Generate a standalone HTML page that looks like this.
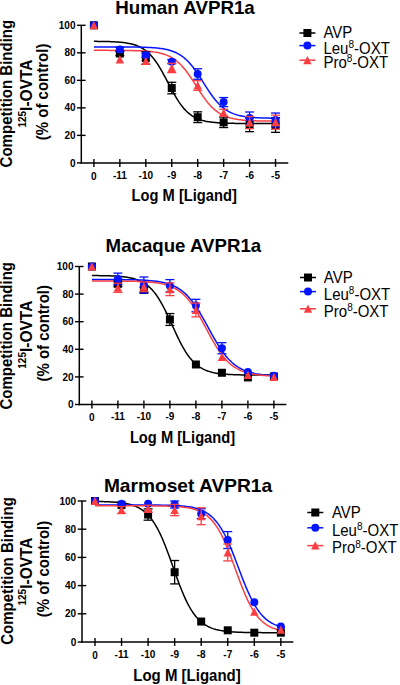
<!DOCTYPE html>
<html><head><meta charset="utf-8"><style>
html,body{margin:0;padding:0;background:#fff;width:400px;height:685px;overflow:hidden}
svg{display:block}
text{font-family:"Liberation Sans",sans-serif}
</style></head><body>
<svg width="400" height="685" viewBox="0 0 400 685" font-family="Liberation Sans, sans-serif">
<rect width="400" height="685" fill="#fff"/>
<text transform="translate(115.20,14.00) scale(1,1.03)" font-size="18.3" font-weight="bold" text-anchor="start" textLength="139.6" lengthAdjust="spacingAndGlyphs">Human AVPR1a</text>
<line x1="81.30" y1="25.30" x2="81.30" y2="163.60" stroke="#000" stroke-width="1.5"/>
<line x1="80.60" y1="162.90" x2="288.30" y2="162.90" stroke="#000" stroke-width="1.5"/>
<line x1="77.00" y1="162.90" x2="81.30" y2="162.90" stroke="#000" stroke-width="1.4"/>
<text x="75.50" y="166.50" font-size="10" font-weight="bold" text-anchor="end" >0</text>
<line x1="77.00" y1="135.38" x2="85.60" y2="135.38" stroke="#000" stroke-width="1.4"/>
<text x="75.50" y="138.98" font-size="10" font-weight="bold" text-anchor="end" >20</text>
<line x1="77.00" y1="107.86" x2="85.60" y2="107.86" stroke="#000" stroke-width="1.4"/>
<text x="75.50" y="111.46" font-size="10" font-weight="bold" text-anchor="end" >40</text>
<line x1="77.00" y1="80.34" x2="85.60" y2="80.34" stroke="#000" stroke-width="1.4"/>
<text x="75.50" y="83.94" font-size="10" font-weight="bold" text-anchor="end" >60</text>
<line x1="77.00" y1="52.82" x2="85.60" y2="52.82" stroke="#000" stroke-width="1.4"/>
<text x="75.50" y="56.42" font-size="10" font-weight="bold" text-anchor="end" >80</text>
<line x1="77.00" y1="25.30" x2="85.60" y2="25.30" stroke="#000" stroke-width="1.4"/>
<text x="75.50" y="28.90" font-size="10" font-weight="bold" text-anchor="end" >100</text>
<line x1="93.90" y1="158.90" x2="93.90" y2="166.90" stroke="#000" stroke-width="1.4"/>
<text x="93.90" y="180.10" font-size="10" font-weight="bold" text-anchor="middle" >0</text>
<line x1="119.85" y1="158.90" x2="119.85" y2="166.90" stroke="#000" stroke-width="1.4"/>
<text x="119.85" y="179.30" font-size="10" font-weight="bold" text-anchor="middle" >-11</text>
<line x1="145.80" y1="158.90" x2="145.80" y2="166.90" stroke="#000" stroke-width="1.4"/>
<text x="145.80" y="179.30" font-size="10" font-weight="bold" text-anchor="middle" >-10</text>
<line x1="171.75" y1="158.90" x2="171.75" y2="166.90" stroke="#000" stroke-width="1.4"/>
<text x="171.75" y="179.30" font-size="10" font-weight="bold" text-anchor="middle" >-9</text>
<line x1="197.70" y1="158.90" x2="197.70" y2="166.90" stroke="#000" stroke-width="1.4"/>
<text x="197.70" y="179.30" font-size="10" font-weight="bold" text-anchor="middle" >-8</text>
<line x1="223.65" y1="158.90" x2="223.65" y2="166.90" stroke="#000" stroke-width="1.4"/>
<text x="223.65" y="179.30" font-size="10" font-weight="bold" text-anchor="middle" >-7</text>
<line x1="249.60" y1="158.90" x2="249.60" y2="166.90" stroke="#000" stroke-width="1.4"/>
<text x="249.60" y="179.30" font-size="10" font-weight="bold" text-anchor="middle" >-6</text>
<line x1="275.55" y1="158.90" x2="275.55" y2="166.90" stroke="#000" stroke-width="1.4"/>
<text x="275.55" y="179.30" font-size="10" font-weight="bold" text-anchor="middle" >-5</text>
<text transform="translate(131.60,200.60) scale(1,1.08)" font-size="14.7" font-weight="bold" text-anchor="start" >Log M [Ligand]</text>
<g transform="translate(0,93.60) rotate(-90)">
<text transform="translate(0.00,12.30) scale(1,1.07)" font-size="15.2" font-weight="bold" text-anchor="middle" textLength="147.6" lengthAdjust="spacingAndGlyphs">Competition Binding</text>
</g>
<g transform="translate(0,93.55) rotate(-90)">
<text transform="translate(0,31.80) scale(1,1.07)" font-size="15.5" font-weight="bold" text-anchor="middle"><tspan font-size="10" dy="-5.33">125</tspan><tspan dy="5.33">I-OVTA</tspan></text>
</g>
<g transform="translate(0,91.90) rotate(-90)">
<text transform="translate(0.00,48.30) scale(1,1.07)" font-size="15.5" font-weight="bold" text-anchor="middle" textLength="96.6" lengthAdjust="spacingAndGlyphs">(% of control)</text>
</g>
<polyline points="93.90,41.35 95.20,41.36 96.50,41.37 97.79,41.38 99.09,41.40 100.39,41.41 101.69,41.43 102.98,41.46 104.28,41.48 105.58,41.51 106.88,41.54 108.17,41.58 109.47,41.62 110.77,41.66 112.07,41.71 113.36,41.77 114.66,41.84 115.96,41.91 117.26,41.99 118.55,42.09 119.85,42.19 121.15,42.31 122.45,42.44 123.74,42.59 125.04,42.76 126.34,42.95 127.64,43.16 128.93,43.39 130.23,43.66 131.53,43.96 132.83,44.29 134.12,44.67 135.42,45.08 136.72,45.55 138.02,46.07 139.31,46.64 140.61,47.28 141.91,48.00 143.21,48.78 144.50,49.65 145.80,50.60 147.10,51.65 148.40,52.80 149.69,54.05 150.99,55.41 152.29,56.89 153.59,58.48 154.88,60.18 156.18,62.00 157.48,63.93 158.78,65.97 160.07,68.10 161.37,70.34 162.67,72.65 163.97,75.02 165.26,77.45 166.56,79.92 167.86,82.40 169.16,84.89 170.45,87.35 171.75,89.78 173.05,92.16 174.35,94.47 175.64,96.70 176.94,98.84 178.24,100.88 179.54,102.81 180.83,104.63 182.13,106.33 183.43,107.92 184.73,109.39 186.02,110.75 187.32,112.01 188.62,113.15 189.92,114.20 191.21,115.16 192.51,116.03 193.81,116.81 195.11,117.52 196.40,118.16 197.70,118.74 199.00,119.26 200.30,119.73 201.59,120.14 202.89,120.52 204.19,120.85 205.49,121.15 206.78,121.41 208.08,121.65 209.38,121.86 210.68,122.05 211.97,122.22 213.27,122.37 214.57,122.50 215.87,122.62 217.16,122.72 218.46,122.82 219.76,122.90 221.06,122.97 222.35,123.04 223.65,123.09 224.95,123.15 226.25,123.19 227.54,123.23 228.84,123.27 230.14,123.30 231.44,123.33 232.73,123.35 234.03,123.37 235.33,123.39 236.63,123.41 237.92,123.43 239.22,123.44 240.52,123.45 241.82,123.46 243.11,123.47 244.41,123.48 245.71,123.49 247.01,123.49 248.30,123.50 249.60,123.51 250.90,123.51 252.20,123.51 253.49,123.52 254.79,123.52 256.09,123.52 257.39,123.53 258.68,123.53 259.98,123.53 261.28,123.53 262.58,123.53 263.87,123.54 265.17,123.54 266.47,123.54 267.77,123.54 269.06,123.54 270.36,123.54 271.66,123.54 272.96,123.54 274.25,123.54 275.55,123.54 276.85,123.54 278.15,123.54 279.44,123.54" fill="none" stroke="#000" stroke-width="1.5"/>
<polyline points="93.90,46.91 95.20,46.91 96.50,46.91 97.79,46.91 99.09,46.91 100.39,46.91 101.69,46.91 102.98,46.91 104.28,46.91 105.58,46.92 106.88,46.92 108.17,46.92 109.47,46.92 110.77,46.92 112.07,46.92 113.36,46.93 114.66,46.93 115.96,46.93 117.26,46.94 118.55,46.94 119.85,46.95 121.15,46.95 122.45,46.96 123.74,46.96 125.04,46.97 126.34,46.98 127.64,46.99 128.93,47.00 130.23,47.01 131.53,47.02 132.83,47.04 134.12,47.06 135.42,47.07 136.72,47.09 138.02,47.12 139.31,47.14 140.61,47.17 141.91,47.21 143.21,47.24 144.50,47.28 145.80,47.33 147.10,47.38 148.40,47.44 149.69,47.51 150.99,47.58 152.29,47.66 153.59,47.75 154.88,47.85 156.18,47.97 157.48,48.10 158.78,48.24 160.07,48.40 161.37,48.58 162.67,48.77 163.97,49.00 165.26,49.24 166.56,49.52 167.86,49.82 169.16,50.17 170.45,50.54 171.75,50.96 173.05,51.43 174.35,51.94 175.64,52.50 176.94,53.13 178.24,53.81 179.54,54.57 180.83,55.39 182.13,56.29 183.43,57.27 184.73,58.33 186.02,59.48 187.32,60.72 188.62,62.05 189.92,63.47 191.21,64.98 192.51,66.58 193.81,68.26 195.11,70.02 196.40,71.86 197.70,73.75 199.00,75.71 200.30,77.71 201.59,79.74 202.89,81.79 204.19,83.84 205.49,85.89 206.78,87.92 208.08,89.91 209.38,91.85 210.68,93.74 211.97,95.56 213.27,97.31 214.57,98.97 215.87,100.55 217.16,102.04 218.46,103.45 219.76,104.76 221.06,105.98 222.35,107.11 223.65,108.15 224.95,109.12 226.25,110.00 227.54,110.81 228.84,111.55 230.14,112.22 231.44,112.83 232.73,113.39 234.03,113.89 235.33,114.35 236.63,114.76 237.92,115.13 239.22,115.46 240.52,115.76 241.82,116.03 243.11,116.27 244.41,116.49 245.71,116.68 247.01,116.86 248.30,117.01 249.60,117.15 250.90,117.28 252.20,117.39 253.49,117.49 254.79,117.58 256.09,117.66 257.39,117.73 258.68,117.79 259.98,117.85 261.28,117.90 262.58,117.94 263.87,117.99 265.17,118.02 266.47,118.05 267.77,118.08 269.06,118.11 270.36,118.13 271.66,118.15 272.96,118.17 274.25,118.18 275.55,118.20 276.85,118.21 278.15,118.22 279.44,118.23" fill="none" stroke="#0514ff" stroke-width="1.5"/>
<polyline points="93.90,50.35 95.20,50.35 96.50,50.35 97.79,50.35 99.09,50.36 100.39,50.36 101.69,50.36 102.98,50.36 104.28,50.36 105.58,50.37 106.88,50.37 108.17,50.37 109.47,50.38 110.77,50.38 112.07,50.38 113.36,50.39 114.66,50.39 115.96,50.40 117.26,50.41 118.55,50.42 119.85,50.42 121.15,50.43 122.45,50.45 123.74,50.46 125.04,50.47 126.34,50.49 127.64,50.51 128.93,50.52 130.23,50.55 131.53,50.57 132.83,50.60 134.12,50.63 135.42,50.67 136.72,50.70 138.02,50.75 139.31,50.80 140.61,50.85 141.91,50.91 143.21,50.98 144.50,51.06 145.80,51.15 147.10,51.24 148.40,51.35 149.69,51.47 150.99,51.61 152.29,51.76 153.59,51.93 154.88,52.12 156.18,52.33 157.48,52.56 158.78,52.83 160.07,53.12 161.37,53.44 162.67,53.80 163.97,54.20 165.26,54.64 166.56,55.13 167.86,55.67 169.16,56.27 170.45,56.92 171.75,57.64 173.05,58.43 174.35,59.29 175.64,60.23 176.94,61.25 178.24,62.36 179.54,63.55 180.83,64.83 182.13,66.21 183.43,67.67 184.73,69.22 186.02,70.86 187.32,72.57 188.62,74.37 189.92,76.23 191.21,78.15 192.51,80.11 193.81,82.12 195.11,84.14 196.40,86.18 197.70,88.22 199.00,90.24 200.30,92.23 201.59,94.18 202.89,96.08 204.19,97.91 205.49,99.67 206.78,101.36 208.08,102.96 209.38,104.48 210.68,105.90 211.97,107.24 213.27,108.49 214.57,109.64 215.87,110.72 217.16,111.70 218.46,112.61 219.76,113.44 221.06,114.20 222.35,114.90 223.65,115.53 224.95,116.10 226.25,116.62 227.54,117.09 228.84,117.52 230.14,117.90 231.44,118.24 232.73,118.55 234.03,118.83 235.33,119.08 236.63,119.31 237.92,119.51 239.22,119.69 240.52,119.85 241.82,120.00 243.11,120.13 244.41,120.24 245.71,120.35 247.01,120.44 248.30,120.52 249.60,120.60 250.90,120.66 252.20,120.72 253.49,120.77 254.79,120.82 256.09,120.86 257.39,120.90 258.68,120.93 259.98,120.96 261.28,120.99 262.58,121.01 263.87,121.03 265.17,121.05 266.47,121.07 267.77,121.08 269.06,121.10 270.36,121.11 271.66,121.12 272.96,121.13 274.25,121.14 275.55,121.15 276.85,121.15 278.15,121.16 279.44,121.16" fill="none" stroke="#fa3e42" stroke-width="1.5"/>
<rect x="89.90" y="21.30" width="8.00" height="8.00" fill="#000"/>
<line x1="119.85" y1="51.44" x2="119.85" y2="55.57" stroke="#000" stroke-width="1.3"/>
<line x1="115.35" y1="51.44" x2="124.35" y2="51.44" stroke="#000" stroke-width="1.3"/>
<line x1="115.35" y1="55.57" x2="124.35" y2="55.57" stroke="#000" stroke-width="1.3"/>
<rect x="115.85" y="49.51" width="8.00" height="8.00" fill="#000"/>
<line x1="145.80" y1="51.86" x2="145.80" y2="64.24" stroke="#000" stroke-width="1.3"/>
<line x1="141.30" y1="51.86" x2="150.30" y2="51.86" stroke="#000" stroke-width="1.3"/>
<line x1="141.30" y1="64.24" x2="150.30" y2="64.24" stroke="#000" stroke-width="1.3"/>
<rect x="141.80" y="54.05" width="8.00" height="8.00" fill="#000"/>
<line x1="171.75" y1="82.27" x2="171.75" y2="93.82" stroke="#000" stroke-width="1.3"/>
<line x1="167.25" y1="82.27" x2="176.25" y2="82.27" stroke="#000" stroke-width="1.3"/>
<line x1="167.25" y1="93.82" x2="176.25" y2="93.82" stroke="#000" stroke-width="1.3"/>
<rect x="167.75" y="84.05" width="8.00" height="8.00" fill="#000"/>
<line x1="197.70" y1="111.85" x2="197.70" y2="122.58" stroke="#000" stroke-width="1.3"/>
<line x1="193.20" y1="111.85" x2="202.20" y2="111.85" stroke="#000" stroke-width="1.3"/>
<line x1="193.20" y1="122.58" x2="202.20" y2="122.58" stroke="#000" stroke-width="1.3"/>
<rect x="193.70" y="113.22" width="8.00" height="8.00" fill="#000"/>
<line x1="223.65" y1="117.08" x2="223.65" y2="127.54" stroke="#000" stroke-width="1.3"/>
<line x1="219.15" y1="117.08" x2="228.15" y2="117.08" stroke="#000" stroke-width="1.3"/>
<line x1="219.15" y1="127.54" x2="228.15" y2="127.54" stroke="#000" stroke-width="1.3"/>
<rect x="219.65" y="118.31" width="8.00" height="8.00" fill="#000"/>
<line x1="249.60" y1="118.18" x2="249.60" y2="131.66" stroke="#000" stroke-width="1.3"/>
<line x1="245.10" y1="118.18" x2="254.10" y2="118.18" stroke="#000" stroke-width="1.3"/>
<line x1="245.10" y1="131.66" x2="254.10" y2="131.66" stroke="#000" stroke-width="1.3"/>
<rect x="245.60" y="120.92" width="8.00" height="8.00" fill="#000"/>
<line x1="275.55" y1="117.77" x2="275.55" y2="132.35" stroke="#000" stroke-width="1.3"/>
<line x1="271.05" y1="117.77" x2="280.05" y2="117.77" stroke="#000" stroke-width="1.3"/>
<line x1="271.05" y1="132.35" x2="280.05" y2="132.35" stroke="#000" stroke-width="1.3"/>
<rect x="271.55" y="121.06" width="8.00" height="8.00" fill="#000"/>
<circle cx="93.90" cy="25.30" r="4.00" fill="#0514ff"/>
<line x1="119.85" y1="47.32" x2="119.85" y2="51.44" stroke="#0514ff" stroke-width="1.3"/>
<line x1="115.35" y1="47.32" x2="124.35" y2="47.32" stroke="#0514ff" stroke-width="1.3"/>
<line x1="115.35" y1="51.44" x2="124.35" y2="51.44" stroke="#0514ff" stroke-width="1.3"/>
<circle cx="119.85" cy="49.38" r="4.00" fill="#0514ff"/>
<line x1="145.80" y1="53.10" x2="145.80" y2="57.22" stroke="#0514ff" stroke-width="1.3"/>
<line x1="141.30" y1="53.10" x2="150.30" y2="53.10" stroke="#0514ff" stroke-width="1.3"/>
<line x1="141.30" y1="57.22" x2="150.30" y2="57.22" stroke="#0514ff" stroke-width="1.3"/>
<circle cx="145.80" cy="55.16" r="4.00" fill="#0514ff"/>
<line x1="171.75" y1="59.56" x2="171.75" y2="63.69" stroke="#0514ff" stroke-width="1.3"/>
<line x1="167.25" y1="59.56" x2="176.25" y2="59.56" stroke="#0514ff" stroke-width="1.3"/>
<line x1="167.25" y1="63.69" x2="176.25" y2="63.69" stroke="#0514ff" stroke-width="1.3"/>
<circle cx="171.75" cy="61.63" r="4.00" fill="#0514ff"/>
<line x1="197.70" y1="68.78" x2="197.70" y2="79.24" stroke="#0514ff" stroke-width="1.3"/>
<line x1="193.20" y1="68.78" x2="202.20" y2="68.78" stroke="#0514ff" stroke-width="1.3"/>
<line x1="193.20" y1="79.24" x2="202.20" y2="79.24" stroke="#0514ff" stroke-width="1.3"/>
<circle cx="197.70" cy="74.01" r="4.00" fill="#0514ff"/>
<line x1="223.65" y1="97.54" x2="223.65" y2="106.62" stroke="#0514ff" stroke-width="1.3"/>
<line x1="219.15" y1="97.54" x2="228.15" y2="97.54" stroke="#0514ff" stroke-width="1.3"/>
<line x1="219.15" y1="106.62" x2="228.15" y2="106.62" stroke="#0514ff" stroke-width="1.3"/>
<circle cx="223.65" cy="102.08" r="4.00" fill="#0514ff"/>
<line x1="249.60" y1="111.99" x2="249.60" y2="124.10" stroke="#0514ff" stroke-width="1.3"/>
<line x1="245.10" y1="111.99" x2="254.10" y2="111.99" stroke="#0514ff" stroke-width="1.3"/>
<line x1="245.10" y1="124.10" x2="254.10" y2="124.10" stroke="#0514ff" stroke-width="1.3"/>
<circle cx="249.60" cy="118.04" r="4.00" fill="#0514ff"/>
<line x1="275.55" y1="113.02" x2="275.55" y2="126.92" stroke="#0514ff" stroke-width="1.3"/>
<line x1="271.05" y1="113.02" x2="280.05" y2="113.02" stroke="#0514ff" stroke-width="1.3"/>
<line x1="271.05" y1="126.92" x2="280.05" y2="126.92" stroke="#0514ff" stroke-width="1.3"/>
<circle cx="275.55" cy="119.97" r="4.00" fill="#0514ff"/>
<polygon points="93.90,21.00 98.10,29.30 89.70,29.30" fill="#fa3e42"/>
<polygon points="119.85,55.12 124.05,63.42 115.65,63.42" fill="#fa3e42"/>
<polygon points="145.80,56.78 150.00,65.08 141.60,65.08" fill="#fa3e42"/>
<line x1="171.75" y1="63.28" x2="171.75" y2="72.63" stroke="#fa3e42" stroke-width="1.3"/>
<line x1="167.25" y1="63.28" x2="176.25" y2="63.28" stroke="#fa3e42" stroke-width="1.3"/>
<line x1="167.25" y1="72.63" x2="176.25" y2="72.63" stroke="#fa3e42" stroke-width="1.3"/>
<polygon points="171.75,63.66 175.95,71.96 167.55,71.96" fill="#fa3e42"/>
<line x1="197.70" y1="80.62" x2="197.70" y2="90.25" stroke="#fa3e42" stroke-width="1.3"/>
<line x1="193.20" y1="80.62" x2="202.20" y2="80.62" stroke="#fa3e42" stroke-width="1.3"/>
<line x1="193.20" y1="90.25" x2="202.20" y2="90.25" stroke="#fa3e42" stroke-width="1.3"/>
<polygon points="197.70,81.13 201.90,89.43 193.50,89.43" fill="#fa3e42"/>
<line x1="223.65" y1="109.24" x2="223.65" y2="116.12" stroke="#fa3e42" stroke-width="1.3"/>
<line x1="219.15" y1="109.24" x2="228.15" y2="109.24" stroke="#fa3e42" stroke-width="1.3"/>
<line x1="219.15" y1="116.12" x2="228.15" y2="116.12" stroke="#fa3e42" stroke-width="1.3"/>
<polygon points="223.65,108.38 227.85,116.68 219.45,116.68" fill="#fa3e42"/>
<line x1="249.60" y1="116.53" x2="249.60" y2="128.64" stroke="#fa3e42" stroke-width="1.3"/>
<line x1="245.10" y1="116.53" x2="254.10" y2="116.53" stroke="#fa3e42" stroke-width="1.3"/>
<line x1="245.10" y1="128.64" x2="254.10" y2="128.64" stroke="#fa3e42" stroke-width="1.3"/>
<polygon points="249.60,118.28 253.80,126.58 245.40,126.58" fill="#fa3e42"/>
<line x1="275.55" y1="115.15" x2="275.55" y2="129.19" stroke="#fa3e42" stroke-width="1.3"/>
<line x1="271.05" y1="115.15" x2="280.05" y2="115.15" stroke="#fa3e42" stroke-width="1.3"/>
<line x1="271.05" y1="129.19" x2="280.05" y2="129.19" stroke="#fa3e42" stroke-width="1.3"/>
<polygon points="275.55,117.87 279.75,126.17 271.35,126.17" fill="#fa3e42"/>
<line x1="299.40" y1="33.00" x2="315.40" y2="33.00" stroke="#000" stroke-width="1.5"/>
<rect x="303.40" y="29.00" width="8.00" height="8.00" fill="#000"/>
<text transform="translate(323.40,37.90) scale(1,1.08)" font-size="15" font-weight="normal">AVP</text>
<line x1="299.40" y1="45.60" x2="315.40" y2="45.60" stroke="#0514ff" stroke-width="1.5"/>
<circle cx="307.40" cy="45.60" r="4.00" fill="#0514ff"/>
<text transform="translate(323.40,53.50) scale(1,1.08)" font-size="15" font-weight="normal">Leu<tspan font-size="10" dy="-5.4">8</tspan><tspan dy="5.4">-OXT</tspan></text>
<line x1="299.40" y1="60.20" x2="315.40" y2="60.20" stroke="#fa3e42" stroke-width="1.5"/>
<polygon points="307.40,55.90 311.60,64.20 303.20,64.20" fill="#fa3e42"/>
<text transform="translate(323.40,67.90) scale(1,1.08)" font-size="15" font-weight="normal">Pro<tspan font-size="10" dy="-5.4">8</tspan><tspan dy="5.4">-OXT</tspan></text>
<text transform="translate(105.60,252.10) scale(1,1.03)" font-size="18.3" font-weight="bold" text-anchor="start" textLength="155.6" lengthAdjust="spacingAndGlyphs">Macaque AVPR1a</text>
<line x1="79.30" y1="266.50" x2="79.30" y2="405.20" stroke="#000" stroke-width="1.5"/>
<line x1="78.60" y1="404.50" x2="286.40" y2="404.50" stroke="#000" stroke-width="1.5"/>
<line x1="75.00" y1="404.50" x2="79.30" y2="404.50" stroke="#000" stroke-width="1.4"/>
<text x="73.50" y="408.10" font-size="10" font-weight="bold" text-anchor="end" >0</text>
<line x1="75.00" y1="376.90" x2="83.60" y2="376.90" stroke="#000" stroke-width="1.4"/>
<text x="73.50" y="380.50" font-size="10" font-weight="bold" text-anchor="end" >20</text>
<line x1="75.00" y1="349.30" x2="83.60" y2="349.30" stroke="#000" stroke-width="1.4"/>
<text x="73.50" y="352.90" font-size="10" font-weight="bold" text-anchor="end" >40</text>
<line x1="75.00" y1="321.70" x2="83.60" y2="321.70" stroke="#000" stroke-width="1.4"/>
<text x="73.50" y="325.30" font-size="10" font-weight="bold" text-anchor="end" >60</text>
<line x1="75.00" y1="294.10" x2="83.60" y2="294.10" stroke="#000" stroke-width="1.4"/>
<text x="73.50" y="297.70" font-size="10" font-weight="bold" text-anchor="end" >80</text>
<line x1="75.00" y1="266.50" x2="83.60" y2="266.50" stroke="#000" stroke-width="1.4"/>
<text x="73.50" y="270.10" font-size="10" font-weight="bold" text-anchor="end" >100</text>
<line x1="91.90" y1="400.50" x2="91.90" y2="408.50" stroke="#000" stroke-width="1.4"/>
<text x="91.90" y="420.80" font-size="10" font-weight="bold" text-anchor="middle" >0</text>
<line x1="117.90" y1="400.50" x2="117.90" y2="408.50" stroke="#000" stroke-width="1.4"/>
<text x="117.90" y="420.00" font-size="10" font-weight="bold" text-anchor="middle" >-11</text>
<line x1="143.90" y1="400.50" x2="143.90" y2="408.50" stroke="#000" stroke-width="1.4"/>
<text x="143.90" y="420.00" font-size="10" font-weight="bold" text-anchor="middle" >-10</text>
<line x1="169.90" y1="400.50" x2="169.90" y2="408.50" stroke="#000" stroke-width="1.4"/>
<text x="169.90" y="420.00" font-size="10" font-weight="bold" text-anchor="middle" >-9</text>
<line x1="195.90" y1="400.50" x2="195.90" y2="408.50" stroke="#000" stroke-width="1.4"/>
<text x="195.90" y="420.00" font-size="10" font-weight="bold" text-anchor="middle" >-8</text>
<line x1="221.90" y1="400.50" x2="221.90" y2="408.50" stroke="#000" stroke-width="1.4"/>
<text x="221.90" y="420.00" font-size="10" font-weight="bold" text-anchor="middle" >-7</text>
<line x1="247.90" y1="400.50" x2="247.90" y2="408.50" stroke="#000" stroke-width="1.4"/>
<text x="247.90" y="420.00" font-size="10" font-weight="bold" text-anchor="middle" >-6</text>
<line x1="273.90" y1="400.50" x2="273.90" y2="408.50" stroke="#000" stroke-width="1.4"/>
<text x="273.90" y="420.00" font-size="10" font-weight="bold" text-anchor="middle" >-5</text>
<text transform="translate(129.90,443.00) scale(1,1.08)" font-size="14.7" font-weight="bold" text-anchor="start" >Log M [Ligand]</text>
<g transform="translate(0,335.80) rotate(-90)">
<text transform="translate(0.00,12.40) scale(1,1.07)" font-size="15.2" font-weight="bold" text-anchor="middle" textLength="147.6" lengthAdjust="spacingAndGlyphs">Competition Binding</text>
</g>
<g transform="translate(0,334.70) rotate(-90)">
<text transform="translate(0,31.80) scale(1,1.07)" font-size="15.5" font-weight="bold" text-anchor="middle"><tspan font-size="10" dy="-5.33">125</tspan><tspan dy="5.33">I-OVTA</tspan></text>
</g>
<g transform="translate(0,333.30) rotate(-90)">
<text transform="translate(0.00,48.60) scale(1,1.07)" font-size="15.5" font-weight="bold" text-anchor="middle" textLength="96.6" lengthAdjust="spacingAndGlyphs">(% of control)</text>
</g>
<polyline points="91.90,275.55 93.20,275.56 94.50,275.57 95.80,275.58 97.10,275.60 98.40,275.61 99.70,275.63 101.00,275.65 102.30,275.67 103.60,275.70 104.90,275.73 106.20,275.76 107.50,275.79 108.80,275.83 110.10,275.87 111.40,275.92 112.70,275.98 114.00,276.04 115.30,276.11 116.60,276.19 117.90,276.27 119.20,276.37 120.50,276.48 121.80,276.60 123.10,276.74 124.40,276.89 125.70,277.06 127.00,277.25 128.30,277.46 129.60,277.70 130.90,277.97 132.20,278.26 133.50,278.59 134.80,278.96 136.10,279.37 137.40,279.83 138.70,280.33 140.00,280.89 141.30,281.51 142.60,282.20 143.90,282.96 145.20,283.80 146.50,284.72 147.80,285.73 149.10,286.84 150.40,288.05 151.70,289.37 153.00,290.81 154.30,292.36 155.60,294.04 156.90,295.84 158.20,297.77 159.50,299.83 160.80,302.01 162.10,304.31 163.40,306.73 164.70,309.25 166.00,311.86 167.30,314.56 168.60,317.33 169.90,320.14 171.20,323.00 172.50,325.86 173.80,328.72 175.10,331.56 176.40,334.36 177.70,337.10 179.00,339.77 180.30,342.35 181.60,344.83 182.90,347.20 184.20,349.45 185.50,351.58 186.80,353.59 188.10,355.47 189.40,357.22 190.70,358.85 192.00,360.35 193.30,361.74 194.60,363.02 195.90,364.19 197.20,365.26 198.50,366.24 199.80,367.12 201.10,367.93 202.40,368.66 203.70,369.32 205.00,369.92 206.30,370.45 207.60,370.94 208.90,371.37 210.20,371.77 211.50,372.12 212.80,372.44 214.10,372.72 215.40,372.97 216.70,373.20 218.00,373.40 219.30,373.59 220.60,373.75 221.90,373.90 223.20,374.03 224.50,374.14 225.80,374.25 227.10,374.34 228.40,374.42 229.70,374.50 231.00,374.56 232.30,374.62 233.60,374.67 234.90,374.72 236.20,374.76 237.50,374.80 238.80,374.83 240.10,374.86 241.40,374.89 242.70,374.91 244.00,374.93 245.30,374.95 246.60,374.97 247.90,374.98 249.20,375.00 250.50,375.01 251.80,375.02 253.10,375.03 254.40,375.04 255.70,375.04 257.00,375.05 258.30,375.06 259.60,375.06 260.90,375.07 262.20,375.07 263.50,375.08 264.80,375.08 266.10,375.08 267.40,375.08 268.70,375.09 270.00,375.09 271.30,375.09 272.60,375.09 273.90,375.09 275.20,375.10 276.50,375.10 277.80,375.10" fill="none" stroke="#000" stroke-width="1.5"/>
<polyline points="91.90,279.49 93.20,279.49 94.50,279.49 95.80,279.49 97.10,279.49 98.40,279.49 99.70,279.50 101.00,279.50 102.30,279.50 103.60,279.51 104.90,279.51 106.20,279.51 107.50,279.52 108.80,279.52 110.10,279.53 111.40,279.53 112.70,279.54 114.00,279.55 115.30,279.55 116.60,279.56 117.90,279.57 119.20,279.58 120.50,279.59 121.80,279.60 123.10,279.62 124.40,279.63 125.70,279.65 127.00,279.67 128.30,279.69 129.60,279.71 130.90,279.74 132.20,279.76 133.50,279.79 134.80,279.83 136.10,279.86 137.40,279.90 138.70,279.95 140.00,280.00 141.30,280.05 142.60,280.11 143.90,280.18 145.20,280.25 146.50,280.33 147.80,280.42 149.10,280.52 150.40,280.63 151.70,280.75 153.00,280.88 154.30,281.02 155.60,281.18 156.90,281.35 158.20,281.54 159.50,281.75 160.80,281.99 162.10,282.24 163.40,282.52 164.70,282.83 166.00,283.16 167.30,283.53 168.60,283.93 169.90,284.37 171.20,284.85 172.50,285.38 173.80,285.95 175.10,286.58 176.40,287.26 177.70,288.00 179.00,288.80 180.30,289.67 181.60,290.61 182.90,291.62 184.20,292.71 185.50,293.88 186.80,295.14 188.10,296.49 189.40,297.92 190.70,299.44 192.00,301.06 193.30,302.76 194.60,304.56 195.90,306.44 197.20,308.41 198.50,310.46 199.80,312.58 201.10,314.76 202.40,317.01 203.70,319.31 205.00,321.65 206.30,324.02 207.60,326.40 208.90,328.80 210.20,331.19 211.50,333.56 212.80,335.91 214.10,338.21 215.40,340.47 216.70,342.67 218.00,344.81 219.30,346.87 220.60,348.85 221.90,350.75 223.20,352.57 224.50,354.29 225.80,355.92 227.10,357.47 228.40,358.92 229.70,360.28 231.00,361.55 232.30,362.74 233.60,363.85 234.90,364.88 236.20,365.83 237.50,366.71 238.80,367.53 240.10,368.28 241.40,368.97 242.70,369.61 244.00,370.19 245.30,370.73 246.60,371.22 247.90,371.67 249.20,372.08 250.50,372.45 251.80,372.79 253.10,373.10 254.40,373.39 255.70,373.65 257.00,373.88 258.30,374.10 259.60,374.29 260.90,374.47 262.20,374.63 263.50,374.78 264.80,374.91 266.10,375.03 267.40,375.14 268.70,375.24 270.00,375.33 271.30,375.41 272.60,375.49 273.90,375.56 275.20,375.62 276.50,375.67 277.80,375.72" fill="none" stroke="#0514ff" stroke-width="1.5"/>
<polyline points="91.90,281.00 93.20,281.00 94.50,281.00 95.80,281.01 97.10,281.01 98.40,281.01 99.70,281.01 101.00,281.01 102.30,281.02 103.60,281.02 104.90,281.02 106.20,281.03 107.50,281.03 108.80,281.03 110.10,281.04 111.40,281.04 112.70,281.05 114.00,281.06 115.30,281.06 116.60,281.07 117.90,281.08 119.20,281.09 120.50,281.10 121.80,281.11 123.10,281.13 124.40,281.14 125.70,281.16 127.00,281.17 128.30,281.19 129.60,281.22 130.90,281.24 132.20,281.27 133.50,281.30 134.80,281.33 136.10,281.37 137.40,281.41 138.70,281.45 140.00,281.50 141.30,281.56 142.60,281.62 143.90,281.68 145.20,281.76 146.50,281.84 147.80,281.93 149.10,282.03 150.40,282.14 151.70,282.26 153.00,282.40 154.30,282.55 155.60,282.71 156.90,282.90 158.20,283.10 159.50,283.32 160.80,283.56 162.10,283.83 163.40,284.13 164.70,284.46 166.00,284.82 167.30,285.21 168.60,285.64 169.90,286.12 171.20,286.64 172.50,287.21 173.80,287.83 175.10,288.51 176.40,289.25 177.70,290.06 179.00,290.94 180.30,291.89 181.60,292.92 182.90,294.03 184.20,295.23 185.50,296.51 186.80,297.89 188.10,299.36 189.40,300.93 190.70,302.60 192.00,304.36 193.30,306.21 194.60,308.16 195.90,310.19 197.20,312.31 198.50,314.51 199.80,316.77 201.10,319.09 202.40,321.46 203.70,323.86 205.00,326.29 206.30,328.74 207.60,331.18 208.90,333.61 210.20,336.02 211.50,338.39 212.80,340.71 214.10,342.97 215.40,345.16 216.70,347.28 218.00,349.32 219.30,351.26 220.60,353.12 221.90,354.88 223.20,356.54 224.50,358.11 225.80,359.59 227.10,360.96 228.40,362.25 229.70,363.45 231.00,364.56 232.30,365.59 233.60,366.54 234.90,367.42 236.20,368.22 237.50,368.96 238.80,369.64 240.10,370.27 241.40,370.84 242.70,371.36 244.00,371.83 245.30,372.27 246.60,372.66 247.90,373.02 249.20,373.35 250.50,373.64 251.80,373.91 253.10,374.16 254.40,374.38 255.70,374.58 257.00,374.76 258.30,374.93 259.60,375.08 260.90,375.21 262.20,375.33 263.50,375.45 264.80,375.55 266.10,375.64 267.40,375.72 268.70,375.79 270.00,375.86 271.30,375.92 272.60,375.98 273.90,376.02 275.20,376.07 276.50,376.11 277.80,376.15" fill="none" stroke="#fa3e42" stroke-width="1.5"/>
<rect x="87.90" y="262.50" width="8.00" height="8.00" fill="#000"/>
<line x1="117.90" y1="280.99" x2="117.90" y2="286.51" stroke="#000" stroke-width="1.3"/>
<line x1="113.40" y1="280.99" x2="122.40" y2="280.99" stroke="#000" stroke-width="1.3"/>
<line x1="113.40" y1="286.51" x2="122.40" y2="286.51" stroke="#000" stroke-width="1.3"/>
<rect x="113.90" y="279.75" width="8.00" height="8.00" fill="#000"/>
<line x1="143.90" y1="287.20" x2="143.90" y2="292.72" stroke="#000" stroke-width="1.3"/>
<line x1="139.40" y1="287.20" x2="148.40" y2="287.20" stroke="#000" stroke-width="1.3"/>
<line x1="139.40" y1="292.72" x2="148.40" y2="292.72" stroke="#000" stroke-width="1.3"/>
<rect x="139.90" y="285.96" width="8.00" height="8.00" fill="#000"/>
<line x1="169.90" y1="313.56" x2="169.90" y2="325.43" stroke="#000" stroke-width="1.3"/>
<line x1="165.40" y1="313.56" x2="174.40" y2="313.56" stroke="#000" stroke-width="1.3"/>
<line x1="165.40" y1="325.43" x2="174.40" y2="325.43" stroke="#000" stroke-width="1.3"/>
<rect x="165.90" y="315.49" width="8.00" height="8.00" fill="#000"/>
<rect x="191.90" y="360.48" width="8.00" height="8.00" fill="#000"/>
<rect x="217.90" y="368.76" width="8.00" height="8.00" fill="#000"/>
<rect x="243.90" y="373.45" width="8.00" height="8.00" fill="#000"/>
<rect x="269.90" y="372.49" width="8.00" height="8.00" fill="#000"/>
<circle cx="91.90" cy="266.50" r="4.00" fill="#0514ff"/>
<line x1="117.90" y1="273.12" x2="117.90" y2="284.72" stroke="#0514ff" stroke-width="1.3"/>
<line x1="113.40" y1="273.12" x2="122.40" y2="273.12" stroke="#0514ff" stroke-width="1.3"/>
<line x1="113.40" y1="284.72" x2="122.40" y2="284.72" stroke="#0514ff" stroke-width="1.3"/>
<circle cx="117.90" cy="278.92" r="4.00" fill="#0514ff"/>
<line x1="143.90" y1="276.99" x2="143.90" y2="293.00" stroke="#0514ff" stroke-width="1.3"/>
<line x1="139.40" y1="276.99" x2="148.40" y2="276.99" stroke="#0514ff" stroke-width="1.3"/>
<line x1="139.40" y1="293.00" x2="148.40" y2="293.00" stroke="#0514ff" stroke-width="1.3"/>
<circle cx="143.90" cy="284.99" r="4.00" fill="#0514ff"/>
<line x1="169.90" y1="279.61" x2="169.90" y2="292.03" stroke="#0514ff" stroke-width="1.3"/>
<line x1="165.40" y1="279.61" x2="174.40" y2="279.61" stroke="#0514ff" stroke-width="1.3"/>
<line x1="165.40" y1="292.03" x2="174.40" y2="292.03" stroke="#0514ff" stroke-width="1.3"/>
<circle cx="169.90" cy="285.82" r="4.00" fill="#0514ff"/>
<line x1="195.90" y1="299.34" x2="195.90" y2="311.76" stroke="#0514ff" stroke-width="1.3"/>
<line x1="191.40" y1="299.34" x2="200.40" y2="299.34" stroke="#0514ff" stroke-width="1.3"/>
<line x1="191.40" y1="311.76" x2="200.40" y2="311.76" stroke="#0514ff" stroke-width="1.3"/>
<circle cx="195.90" cy="305.55" r="4.00" fill="#0514ff"/>
<line x1="221.90" y1="342.68" x2="221.90" y2="353.72" stroke="#0514ff" stroke-width="1.3"/>
<line x1="217.40" y1="342.68" x2="226.40" y2="342.68" stroke="#0514ff" stroke-width="1.3"/>
<line x1="217.40" y1="353.72" x2="226.40" y2="353.72" stroke="#0514ff" stroke-width="1.3"/>
<circle cx="221.90" cy="348.20" r="4.00" fill="#0514ff"/>
<circle cx="247.90" cy="371.93" r="4.00" fill="#0514ff"/>
<circle cx="273.90" cy="375.80" r="4.00" fill="#0514ff"/>
<polygon points="91.90,262.20 96.10,270.50 87.70,270.50" fill="#fa3e42"/>
<line x1="117.90" y1="283.20" x2="117.90" y2="292.31" stroke="#fa3e42" stroke-width="1.3"/>
<line x1="113.40" y1="283.20" x2="122.40" y2="283.20" stroke="#fa3e42" stroke-width="1.3"/>
<line x1="113.40" y1="292.31" x2="122.40" y2="292.31" stroke="#fa3e42" stroke-width="1.3"/>
<polygon points="117.90,283.45 122.10,291.75 113.70,291.75" fill="#fa3e42"/>
<line x1="143.90" y1="281.96" x2="143.90" y2="291.62" stroke="#fa3e42" stroke-width="1.3"/>
<line x1="139.40" y1="281.96" x2="148.40" y2="281.96" stroke="#fa3e42" stroke-width="1.3"/>
<line x1="139.40" y1="291.62" x2="148.40" y2="291.62" stroke="#fa3e42" stroke-width="1.3"/>
<polygon points="143.90,282.49 148.10,290.79 139.70,290.79" fill="#fa3e42"/>
<line x1="169.90" y1="282.92" x2="169.90" y2="295.62" stroke="#fa3e42" stroke-width="1.3"/>
<line x1="165.40" y1="282.92" x2="174.40" y2="282.92" stroke="#fa3e42" stroke-width="1.3"/>
<line x1="165.40" y1="295.62" x2="174.40" y2="295.62" stroke="#fa3e42" stroke-width="1.3"/>
<polygon points="169.90,284.97 174.10,293.27 165.70,293.27" fill="#fa3e42"/>
<line x1="195.90" y1="303.07" x2="195.90" y2="316.87" stroke="#fa3e42" stroke-width="1.3"/>
<line x1="191.40" y1="303.07" x2="200.40" y2="303.07" stroke="#fa3e42" stroke-width="1.3"/>
<line x1="191.40" y1="316.87" x2="200.40" y2="316.87" stroke="#fa3e42" stroke-width="1.3"/>
<polygon points="195.90,305.67 200.10,313.97 191.70,313.97" fill="#fa3e42"/>
<polygon points="221.90,352.73 226.10,361.03 217.70,361.03" fill="#fa3e42"/>
<polygon points="247.90,370.67 252.10,378.97 243.70,378.97" fill="#fa3e42"/>
<polygon points="273.90,372.74 278.10,381.04 269.70,381.04" fill="#fa3e42"/>
<line x1="300.00" y1="277.50" x2="316.00" y2="277.50" stroke="#000" stroke-width="1.5"/>
<rect x="304.00" y="273.50" width="8.00" height="8.00" fill="#000"/>
<text transform="translate(323.80,282.80) scale(1,1.08)" font-size="15" font-weight="normal">AVP</text>
<line x1="300.00" y1="291.60" x2="316.00" y2="291.60" stroke="#0514ff" stroke-width="1.5"/>
<circle cx="308.00" cy="291.60" r="4.00" fill="#0514ff"/>
<text transform="translate(323.80,299.70) scale(1,1.08)" font-size="15" font-weight="normal">Leu<tspan font-size="10" dy="-5.4">8</tspan><tspan dy="5.4">-OXT</tspan></text>
<line x1="300.00" y1="308.80" x2="316.00" y2="308.80" stroke="#fa3e42" stroke-width="1.5"/>
<polygon points="308.00,304.50 312.20,312.80 303.80,312.80" fill="#fa3e42"/>
<text transform="translate(323.80,316.90) scale(1,1.08)" font-size="15" font-weight="normal">Pro<tspan font-size="10" dy="-5.4">8</tspan><tspan dy="5.4">-OXT</tspan></text>
<text transform="translate(103.90,492.40) scale(1,1.03)" font-size="18.3" font-weight="bold" text-anchor="start" textLength="168.2" lengthAdjust="spacingAndGlyphs">Marmoset AVPR1a</text>
<line x1="82.00" y1="501.00" x2="82.00" y2="642.70" stroke="#000" stroke-width="1.5"/>
<line x1="81.30" y1="642.00" x2="293.40" y2="642.00" stroke="#000" stroke-width="1.5"/>
<line x1="77.70" y1="642.00" x2="82.00" y2="642.00" stroke="#000" stroke-width="1.4"/>
<text x="76.20" y="645.60" font-size="10" font-weight="bold" text-anchor="end" >0</text>
<line x1="77.70" y1="613.80" x2="86.30" y2="613.80" stroke="#000" stroke-width="1.4"/>
<text x="76.20" y="617.40" font-size="10" font-weight="bold" text-anchor="end" >20</text>
<line x1="77.70" y1="585.60" x2="86.30" y2="585.60" stroke="#000" stroke-width="1.4"/>
<text x="76.20" y="589.20" font-size="10" font-weight="bold" text-anchor="end" >40</text>
<line x1="77.70" y1="557.40" x2="86.30" y2="557.40" stroke="#000" stroke-width="1.4"/>
<text x="76.20" y="561.00" font-size="10" font-weight="bold" text-anchor="end" >60</text>
<line x1="77.70" y1="529.20" x2="86.30" y2="529.20" stroke="#000" stroke-width="1.4"/>
<text x="76.20" y="532.80" font-size="10" font-weight="bold" text-anchor="end" >80</text>
<line x1="77.70" y1="501.00" x2="86.30" y2="501.00" stroke="#000" stroke-width="1.4"/>
<text x="76.20" y="504.60" font-size="10" font-weight="bold" text-anchor="end" >100</text>
<line x1="95.00" y1="638.00" x2="95.00" y2="646.00" stroke="#000" stroke-width="1.4"/>
<text x="95.00" y="659.20" font-size="10" font-weight="bold" text-anchor="middle" >0</text>
<line x1="121.55" y1="638.00" x2="121.55" y2="646.00" stroke="#000" stroke-width="1.4"/>
<text x="121.55" y="658.40" font-size="10" font-weight="bold" text-anchor="middle" >-11</text>
<line x1="148.10" y1="638.00" x2="148.10" y2="646.00" stroke="#000" stroke-width="1.4"/>
<text x="148.10" y="658.40" font-size="10" font-weight="bold" text-anchor="middle" >-10</text>
<line x1="174.65" y1="638.00" x2="174.65" y2="646.00" stroke="#000" stroke-width="1.4"/>
<text x="174.65" y="658.40" font-size="10" font-weight="bold" text-anchor="middle" >-9</text>
<line x1="201.20" y1="638.00" x2="201.20" y2="646.00" stroke="#000" stroke-width="1.4"/>
<text x="201.20" y="658.40" font-size="10" font-weight="bold" text-anchor="middle" >-8</text>
<line x1="227.75" y1="638.00" x2="227.75" y2="646.00" stroke="#000" stroke-width="1.4"/>
<text x="227.75" y="658.40" font-size="10" font-weight="bold" text-anchor="middle" >-7</text>
<line x1="254.30" y1="638.00" x2="254.30" y2="646.00" stroke="#000" stroke-width="1.4"/>
<text x="254.30" y="658.40" font-size="10" font-weight="bold" text-anchor="middle" >-6</text>
<line x1="280.85" y1="638.00" x2="280.85" y2="646.00" stroke="#000" stroke-width="1.4"/>
<text x="280.85" y="658.40" font-size="10" font-weight="bold" text-anchor="middle" >-5</text>
<text transform="translate(133.30,680.70) scale(1,1.08)" font-size="15.0" font-weight="bold" text-anchor="start" >Log M [Ligand]</text>
<g transform="translate(0,571.00) rotate(-90)">
<text transform="translate(0.00,12.60) scale(1,1.07)" font-size="15.2" font-weight="bold" text-anchor="middle" textLength="147.6" lengthAdjust="spacingAndGlyphs">Competition Binding</text>
</g>
<g transform="translate(0,571.50) rotate(-90)">
<text transform="translate(0,32.20) scale(1,1.07)" font-size="15.5" font-weight="bold" text-anchor="middle"><tspan font-size="10" dy="-5.70">125</tspan><tspan dy="5.70">I-OVTA</tspan></text>
</g>
<g transform="translate(0,569.05) rotate(-90)">
<text transform="translate(0.00,49.40) scale(1,1.07)" font-size="15.5" font-weight="bold" text-anchor="middle" textLength="96.6" lengthAdjust="spacingAndGlyphs">(% of control)</text>
</g>
<polyline points="95.00,501.44 96.33,501.46 97.66,501.48 98.98,501.51 100.31,501.54 101.64,501.57 102.97,501.60 104.29,501.64 105.62,501.68 106.95,501.73 108.28,501.78 109.60,501.85 110.93,501.91 112.26,501.99 113.59,502.07 114.91,502.17 116.24,502.27 117.57,502.39 118.90,502.53 120.22,502.67 121.55,502.84 122.88,503.03 124.21,503.23 125.53,503.47 126.86,503.72 128.19,504.01 129.52,504.34 130.84,504.69 132.17,505.09 133.50,505.54 134.83,506.04 136.15,506.59 137.48,507.20 138.81,507.88 140.14,508.63 141.46,509.46 142.79,510.38 144.12,511.39 145.45,512.51 146.77,513.74 148.10,515.08 149.43,516.55 150.76,518.16 152.08,519.91 153.41,521.81 154.74,523.86 156.07,526.07 157.39,528.44 158.72,530.98 160.05,533.68 161.38,536.55 162.70,539.56 164.03,542.73 165.36,546.03 166.69,549.45 168.01,552.98 169.34,556.59 170.67,560.27 172.00,563.99 173.32,567.74 174.65,571.47 175.98,575.18 177.31,578.84 178.63,582.42 179.96,585.91 181.29,589.28 182.62,592.53 183.94,595.64 185.27,598.59 186.60,601.39 187.93,604.03 189.25,606.50 190.58,608.81 191.91,610.96 193.24,612.95 194.56,614.78 195.89,616.47 197.22,618.03 198.55,619.45 199.87,620.74 201.20,621.93 202.53,623.00 203.86,623.98 205.18,624.86 206.51,625.66 207.84,626.38 209.17,627.03 210.49,627.62 211.82,628.14 213.15,628.62 214.48,629.05 215.80,629.43 217.13,629.77 218.46,630.08 219.79,630.36 221.11,630.61 222.44,630.83 223.77,631.03 225.10,631.20 226.42,631.36 227.75,631.50 229.08,631.63 230.41,631.75 231.73,631.85 233.06,631.94 234.39,632.02 235.72,632.09 237.04,632.16 238.37,632.21 239.70,632.27 241.03,632.31 242.35,632.35 243.68,632.39 245.01,632.42 246.34,632.45 247.66,632.48 248.99,632.50 250.32,632.52 251.65,632.54 252.97,632.56 254.30,632.57 255.63,632.58 256.96,632.60 258.28,632.61 259.61,632.62 260.94,632.62 262.27,632.63 263.59,632.64 264.92,632.64 266.25,632.65 267.58,632.65 268.90,632.66 270.23,632.66 271.56,632.67 272.89,632.67 274.21,632.67 275.54,632.67 276.87,632.68 278.20,632.68 279.52,632.68 280.85,632.68 282.18,632.68 283.51,632.68 284.83,632.69" fill="none" stroke="#000" stroke-width="1.5"/>
<polyline points="95.00,504.95 96.33,504.95 97.66,504.95 98.98,504.95 100.31,504.95 101.64,504.95 102.97,504.95 104.29,504.95 105.62,504.95 106.95,504.95 108.28,504.95 109.60,504.95 110.93,504.95 112.26,504.95 113.59,504.95 114.91,504.95 116.24,504.95 117.57,504.95 118.90,504.95 120.22,504.95 121.55,504.95 122.88,504.95 124.21,504.96 125.53,504.96 126.86,504.96 128.19,504.96 129.52,504.96 130.84,504.96 132.17,504.96 133.50,504.96 134.83,504.97 136.15,504.97 137.48,504.97 138.81,504.97 140.14,504.98 141.46,504.98 142.79,504.99 144.12,504.99 145.45,504.99 146.77,505.00 148.10,505.01 149.43,505.01 150.76,505.02 152.08,505.03 153.41,505.04 154.74,505.05 156.07,505.06 157.39,505.08 158.72,505.09 160.05,505.11 161.38,505.13 162.70,505.15 164.03,505.17 165.36,505.20 166.69,505.23 168.01,505.26 169.34,505.30 170.67,505.34 172.00,505.39 173.32,505.44 174.65,505.50 175.98,505.57 177.31,505.64 178.63,505.72 179.96,505.82 181.29,505.92 182.62,506.03 183.94,506.16 185.27,506.30 186.60,506.46 187.93,506.64 189.25,506.84 190.58,507.07 191.91,507.31 193.24,507.59 194.56,507.90 195.89,508.24 197.22,508.62 198.55,509.05 199.87,509.52 201.20,510.04 202.53,510.62 203.86,511.27 205.18,511.98 206.51,512.77 207.84,513.64 209.17,514.59 210.49,515.65 211.82,516.80 213.15,518.07 214.48,519.46 215.80,520.97 217.13,522.61 218.46,524.39 219.79,526.32 221.11,528.39 222.44,530.62 223.77,532.99 225.10,535.52 226.42,538.21 227.75,541.03 229.08,544.00 230.41,547.09 231.73,550.30 233.06,553.61 234.39,557.00 235.72,560.46 237.04,563.96 238.37,567.48 239.70,571.01 241.03,574.51 242.35,577.96 243.68,581.36 245.01,584.67 246.34,587.87 247.66,590.97 248.99,593.93 250.32,596.76 251.65,599.44 252.97,601.97 254.30,604.35 255.63,606.57 256.96,608.65 258.28,610.57 259.61,612.35 260.94,614.00 262.27,615.51 263.59,616.89 264.92,618.16 266.25,619.32 267.58,620.37 268.90,621.33 270.23,622.20 271.56,622.98 272.89,623.70 274.21,624.34 275.54,624.92 276.87,625.44 278.20,625.92 279.52,626.34 280.85,626.72 282.18,627.07 283.51,627.37 284.83,627.65" fill="none" stroke="#0514ff" stroke-width="1.5"/>
<polyline points="95.00,505.79 96.33,505.79 97.66,505.79 98.98,505.79 100.31,505.80 101.64,505.80 102.97,505.80 104.29,505.80 105.62,505.80 106.95,505.80 108.28,505.80 109.60,505.80 110.93,505.80 112.26,505.80 113.59,505.80 114.91,505.80 116.24,505.80 117.57,505.80 118.90,505.80 120.22,505.80 121.55,505.80 122.88,505.80 124.21,505.80 125.53,505.80 126.86,505.80 128.19,505.81 129.52,505.81 130.84,505.81 132.17,505.81 133.50,505.81 134.83,505.81 136.15,505.82 137.48,505.82 138.81,505.82 140.14,505.83 141.46,505.83 142.79,505.84 144.12,505.84 145.45,505.85 146.77,505.85 148.10,505.86 149.43,505.87 150.76,505.88 152.08,505.89 153.41,505.90 154.74,505.91 156.07,505.92 157.39,505.94 158.72,505.96 160.05,505.98 161.38,506.00 162.70,506.02 164.03,506.05 165.36,506.08 166.69,506.12 168.01,506.16 169.34,506.20 170.67,506.25 172.00,506.31 173.32,506.37 174.65,506.44 175.98,506.52 177.31,506.61 178.63,506.71 179.96,506.82 181.29,506.94 182.62,507.08 183.94,507.24 185.27,507.41 186.60,507.60 187.93,507.82 189.25,508.06 190.58,508.34 191.91,508.64 193.24,508.98 194.56,509.36 195.89,509.78 197.22,510.24 198.55,510.77 199.87,511.35 201.20,511.99 202.53,512.71 203.86,513.50 205.18,514.38 206.51,515.34 207.84,516.41 209.17,517.59 210.49,518.88 211.82,520.29 213.15,521.84 214.48,523.52 215.80,525.35 217.13,527.33 218.46,529.47 219.79,531.77 221.11,534.23 222.44,536.85 223.77,539.63 225.10,542.57 226.42,545.65 227.75,548.86 229.08,552.20 230.41,555.64 231.73,559.16 233.06,562.76 234.39,566.39 235.72,570.05 237.04,573.70 238.37,577.32 239.70,580.88 241.03,584.38 242.35,587.78 243.68,591.07 245.01,594.23 246.34,597.25 247.66,600.13 248.99,602.84 250.32,605.40 251.65,607.80 252.97,610.03 254.30,612.11 255.63,614.03 256.96,615.80 258.28,617.43 259.61,618.92 260.94,620.28 262.27,621.53 263.59,622.66 264.92,623.68 266.25,624.61 267.58,625.46 268.90,626.22 270.23,626.90 271.56,627.52 272.89,628.08 274.21,628.58 275.54,629.03 276.87,629.43 278.20,629.79 279.52,630.12 280.85,630.41 282.18,630.66 283.51,630.90 284.83,631.11" fill="none" stroke="#fa3e42" stroke-width="1.5"/>
<rect x="91.00" y="497.00" width="8.00" height="8.00" fill="#000"/>
<rect x="117.55" y="500.95" width="8.00" height="8.00" fill="#000"/>
<line x1="148.10" y1="508.90" x2="148.10" y2="520.18" stroke="#000" stroke-width="1.3"/>
<line x1="143.60" y1="508.90" x2="152.60" y2="508.90" stroke="#000" stroke-width="1.3"/>
<line x1="143.60" y1="520.18" x2="152.60" y2="520.18" stroke="#000" stroke-width="1.3"/>
<rect x="144.10" y="510.54" width="8.00" height="8.00" fill="#000"/>
<line x1="174.65" y1="560.50" x2="174.65" y2="583.91" stroke="#000" stroke-width="1.3"/>
<line x1="170.15" y1="560.50" x2="179.15" y2="560.50" stroke="#000" stroke-width="1.3"/>
<line x1="170.15" y1="583.91" x2="179.15" y2="583.91" stroke="#000" stroke-width="1.3"/>
<rect x="170.65" y="568.21" width="8.00" height="8.00" fill="#000"/>
<rect x="197.20" y="617.55" width="8.00" height="8.00" fill="#000"/>
<rect x="223.75" y="626.30" width="8.00" height="8.00" fill="#000"/>
<rect x="250.30" y="628.69" width="8.00" height="8.00" fill="#000"/>
<rect x="276.85" y="628.69" width="8.00" height="8.00" fill="#000"/>
<circle cx="95.00" cy="501.00" r="4.00" fill="#0514ff"/>
<circle cx="121.55" cy="503.82" r="4.00" fill="#0514ff"/>
<circle cx="148.10" cy="503.82" r="4.00" fill="#0514ff"/>
<line x1="174.65" y1="501.00" x2="174.65" y2="508.05" stroke="#0514ff" stroke-width="1.3"/>
<line x1="170.15" y1="501.00" x2="179.15" y2="501.00" stroke="#0514ff" stroke-width="1.3"/>
<line x1="170.15" y1="508.05" x2="179.15" y2="508.05" stroke="#0514ff" stroke-width="1.3"/>
<circle cx="174.65" cy="504.52" r="4.00" fill="#0514ff"/>
<line x1="201.20" y1="508.75" x2="201.20" y2="518.62" stroke="#0514ff" stroke-width="1.3"/>
<line x1="196.70" y1="508.75" x2="205.70" y2="508.75" stroke="#0514ff" stroke-width="1.3"/>
<line x1="196.70" y1="518.62" x2="205.70" y2="518.62" stroke="#0514ff" stroke-width="1.3"/>
<circle cx="201.20" cy="513.69" r="4.00" fill="#0514ff"/>
<line x1="227.75" y1="531.60" x2="227.75" y2="548.52" stroke="#0514ff" stroke-width="1.3"/>
<line x1="223.25" y1="531.60" x2="232.25" y2="531.60" stroke="#0514ff" stroke-width="1.3"/>
<line x1="223.25" y1="548.52" x2="232.25" y2="548.52" stroke="#0514ff" stroke-width="1.3"/>
<circle cx="227.75" cy="540.06" r="4.00" fill="#0514ff"/>
<circle cx="254.30" cy="602.24" r="4.00" fill="#0514ff"/>
<circle cx="280.85" cy="626.49" r="4.00" fill="#0514ff"/>
<polygon points="95.00,496.70 99.20,505.00 90.80,505.00" fill="#fa3e42"/>
<line x1="121.55" y1="506.50" x2="121.55" y2="513.55" stroke="#fa3e42" stroke-width="1.3"/>
<line x1="117.05" y1="506.50" x2="126.05" y2="506.50" stroke="#fa3e42" stroke-width="1.3"/>
<line x1="117.05" y1="513.55" x2="126.05" y2="513.55" stroke="#fa3e42" stroke-width="1.3"/>
<polygon points="121.55,505.72 125.75,514.02 117.35,514.02" fill="#fa3e42"/>
<line x1="148.10" y1="505.23" x2="148.10" y2="512.28" stroke="#fa3e42" stroke-width="1.3"/>
<line x1="143.60" y1="505.23" x2="152.60" y2="505.23" stroke="#fa3e42" stroke-width="1.3"/>
<line x1="143.60" y1="512.28" x2="152.60" y2="512.28" stroke="#fa3e42" stroke-width="1.3"/>
<polygon points="148.10,504.45 152.30,512.75 143.90,512.75" fill="#fa3e42"/>
<line x1="174.65" y1="504.38" x2="174.65" y2="515.66" stroke="#fa3e42" stroke-width="1.3"/>
<line x1="170.15" y1="504.38" x2="179.15" y2="504.38" stroke="#fa3e42" stroke-width="1.3"/>
<line x1="170.15" y1="515.66" x2="179.15" y2="515.66" stroke="#fa3e42" stroke-width="1.3"/>
<polygon points="174.65,505.72 178.85,514.02 170.45,514.02" fill="#fa3e42"/>
<line x1="201.20" y1="507.77" x2="201.20" y2="524.69" stroke="#fa3e42" stroke-width="1.3"/>
<line x1="196.70" y1="507.77" x2="205.70" y2="507.77" stroke="#fa3e42" stroke-width="1.3"/>
<line x1="196.70" y1="524.69" x2="205.70" y2="524.69" stroke="#fa3e42" stroke-width="1.3"/>
<polygon points="201.20,511.93 205.40,520.23 197.00,520.23" fill="#fa3e42"/>
<line x1="227.75" y1="544.00" x2="227.75" y2="560.92" stroke="#fa3e42" stroke-width="1.3"/>
<line x1="223.25" y1="544.00" x2="232.25" y2="544.00" stroke="#fa3e42" stroke-width="1.3"/>
<line x1="223.25" y1="560.92" x2="232.25" y2="560.92" stroke="#fa3e42" stroke-width="1.3"/>
<polygon points="227.75,548.17 231.95,556.47 223.55,556.47" fill="#fa3e42"/>
<polygon points="254.30,607.38 258.50,615.68 250.10,615.68" fill="#fa3e42"/>
<polygon points="280.85,625.57 285.05,633.87 276.65,633.87" fill="#fa3e42"/>
<line x1="307.30" y1="512.50" x2="323.30" y2="512.50" stroke="#000" stroke-width="1.5"/>
<rect x="311.30" y="508.50" width="8.00" height="8.00" fill="#000"/>
<text transform="translate(331.90,517.80) scale(1,1.08)" font-size="15" font-weight="normal">AVP</text>
<line x1="307.30" y1="527.80" x2="323.30" y2="527.80" stroke="#0514ff" stroke-width="1.5"/>
<circle cx="315.30" cy="527.80" r="4.00" fill="#0514ff"/>
<text transform="translate(331.90,535.90) scale(1,1.08)" font-size="15" font-weight="normal">Leu<tspan font-size="10" dy="-5.4">8</tspan><tspan dy="5.4">-OXT</tspan></text>
<line x1="307.30" y1="545.60" x2="323.30" y2="545.60" stroke="#fa3e42" stroke-width="1.5"/>
<polygon points="315.30,541.30 319.50,549.60 311.10,549.60" fill="#fa3e42"/>
<text transform="translate(331.90,553.40) scale(1,1.08)" font-size="15" font-weight="normal">Pro<tspan font-size="10" dy="-5.4">8</tspan><tspan dy="5.4">-OXT</tspan></text>
</svg>
</body></html>
